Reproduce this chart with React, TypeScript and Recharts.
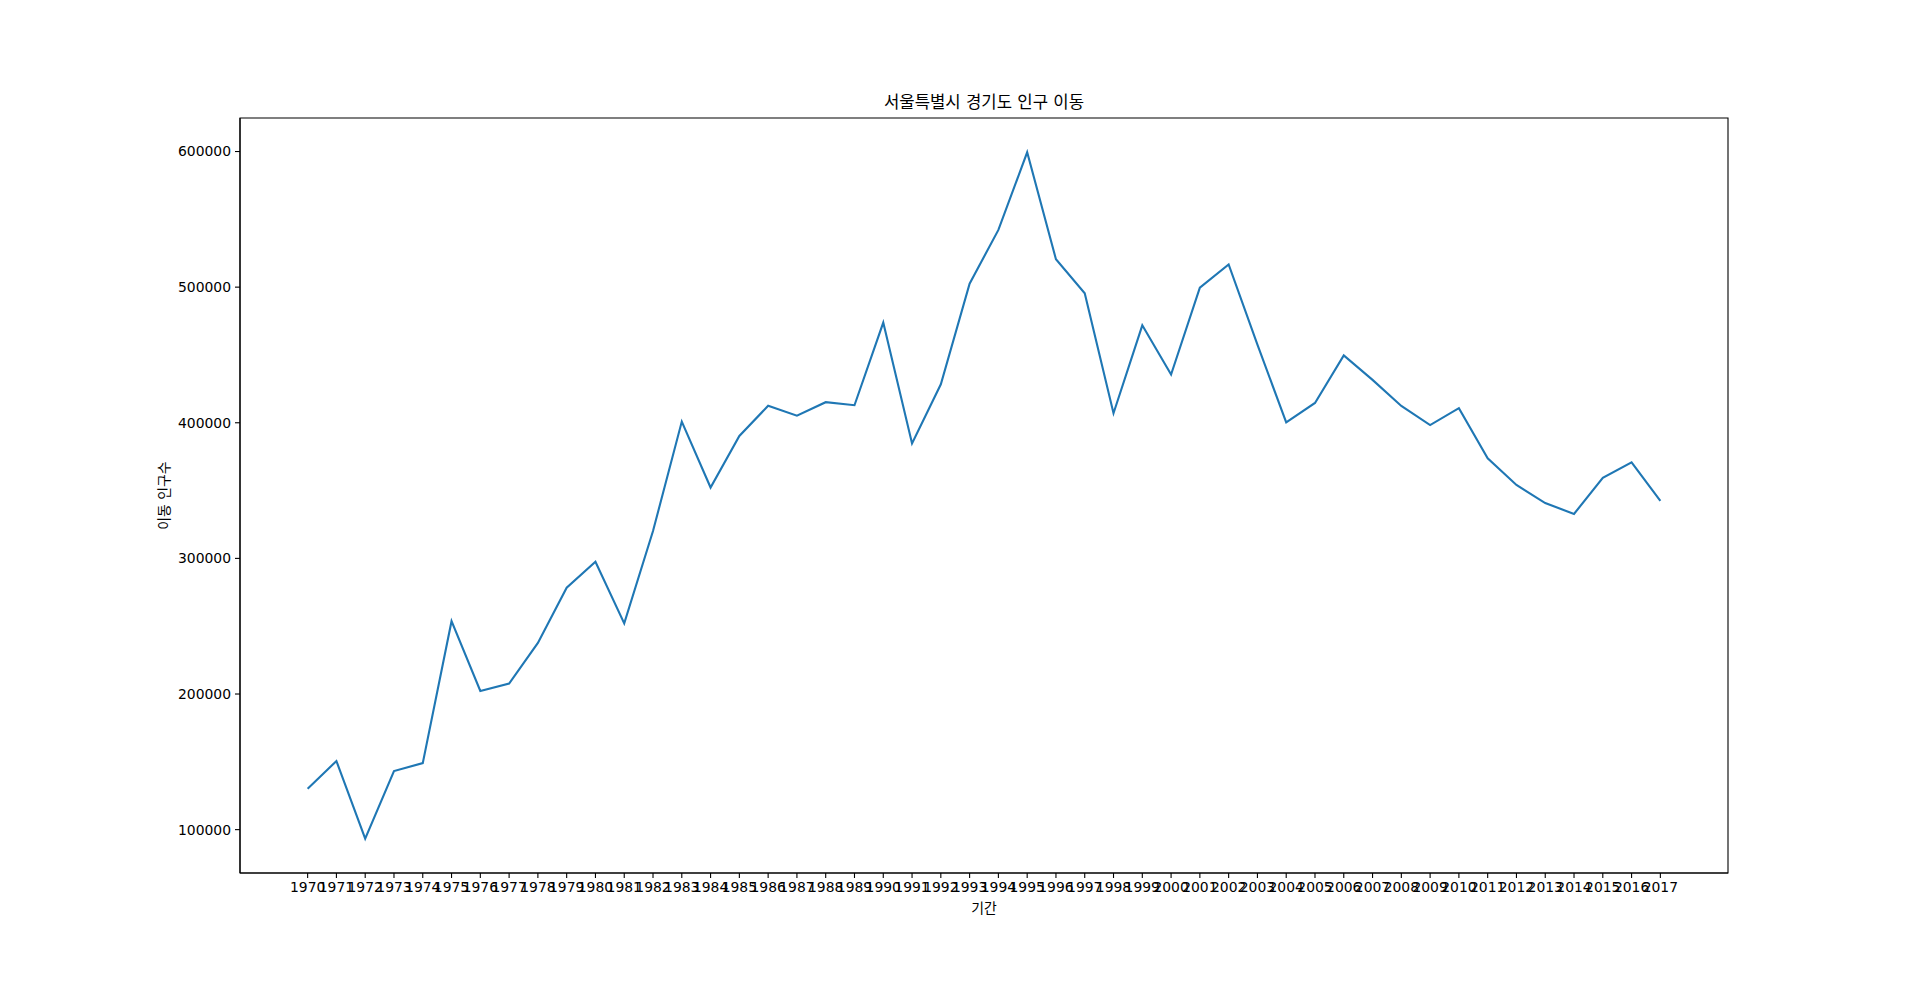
import { LineChart, Line, XAxis, YAxis, ReferenceArea } from 'recharts'

const years = [
  1970, 1971, 1972, 1973, 1974, 1975, 1976, 1977, 1978, 1979,
  1980, 1981, 1982, 1983, 1984, 1985, 1986, 1987, 1988, 1989,
  1990, 1991, 1992, 1993, 1994, 1995, 1996, 1997, 1998, 1999,
  2000, 2001, 2002, 2003, 2004, 2005, 2006, 2007, 2008, 2009,
  2010, 2011, 2012, 2013, 2014, 2015, 2016, 2017,
]

const movers = [
  130149, 150583, 93333, 143234, 149045, 253705, 202276, 207722, 237684, 278411,
  297539, 252073, 320174, 400875, 352238, 390265, 412535, 405220, 415174, 412933,
  473889, 384714, 428344, 502584, 542204, 599411, 520566, 495454, 407050, 471841,
  435573, 499575, 516765, 457656, 400206, 414621, 449632, 431637, 412408, 398282,
  410735, 373771, 354135, 340801, 332785, 359337, 370760, 342433,
]

const yTicks = [100000, 200000, 300000, 400000, 500000, 600000]

const chartTitle = '서울특별시 경기도 인구 이동'
const xTitle = '기간'
const yTitle = '이동 인구수'

const data = years.map((year, i) => ({ year, value: movers[i] }))

// matplotlib-style 5% padding on both axes
const xPad = (years[years.length - 1] - years[0]) * 0.05
const xDomain: [number, number] = [years[0] - xPad, years[years.length - 1] + xPad]
const yMinV = Math.min(...movers)
const yMaxV = Math.max(...movers)
const yPad = (yMaxV - yMinV) * 0.05
const yDomain: [number, number] = [yMinV - yPad, yMaxV + yPad]

const font = '"DejaVu Sans", "Noto Sans CJK KR", sans-serif'
const tickStyle = { fontSize: 13.9, fill: '#000', fontFamily: font }

export default function App() {
  return (
    <div style={{ position: 'absolute', left: 0, top: 0, width: 1920, height: 981, background: '#fff' }}>
      <div
        style={{
          position: 'absolute',
          left: 240,
          width: 1488,
          top: 92,
          textAlign: 'center',
          fontFamily: font,
          fontSize: 16.7,
          color: '#000',
          lineHeight: '20px',
        }}
      >
        {chartTitle}
      </div>
      <LineChart width={1920} height={981} data={data} margin={{ top: 118, right: 192, left: 0, bottom: 0 }}>
        <XAxis
          dataKey="year"
          type="number"
          domain={xDomain}
          allowDataOverflow
          ticks={years}
          interval={0}
          height={108}
          tickSize={5}
          tickMargin={4}
          tick={tickStyle}
          axisLine={{ stroke: '#000', strokeWidth: 1.1 }}
          tickLine={{ stroke: '#000', strokeWidth: 1.1 }}
          label={{
            value: xTitle,
            position: 'insideTop',
            offset: 30,
            style: { fontSize: 13.9, fill: '#000', fontFamily: font },
          }}
        />
        <YAxis
          type="number"
          domain={yDomain}
          allowDataOverflow
          ticks={yTicks}
          interval={0}
          width={240}
          tickSize={5}
          tickMargin={4}
          tick={tickStyle}
          axisLine={{ stroke: '#000', strokeWidth: 1.1 }}
          tickLine={{ stroke: '#000', strokeWidth: 1.1 }}
          label={{
            value: yTitle,
            content: (props: any) => {
              const vb = props.viewBox || {}
              const cx = vb.x + vb.width - 76
              const cy = vb.y + vb.height / 2
              return (
                <text
                  x={cx}
                  y={cy}
                  transform={`rotate(-90, ${cx}, ${cy})`}
                  textAnchor="middle"
                  dominantBaseline="central"
                  style={{ fontSize: 13.9, fill: '#000', fontFamily: font }}
                >
                  {yTitle}
                </text>
              )
            },
          }}
        />
        <ReferenceArea
          x1={xDomain[0]}
          x2={xDomain[1]}
          y1={yDomain[0]}
          y2={yDomain[1]}
          fill="none"
          stroke="#000"
          strokeWidth={1.1}
          ifOverflow="visible"
        />
        <Line
          type="linear"
          dataKey="value"
          stroke="#1f77b4"
          strokeWidth={2.1}
          dot={false}
          activeDot={false}
          isAnimationActive={false}
        />
      </LineChart>
    </div>
  )
}
